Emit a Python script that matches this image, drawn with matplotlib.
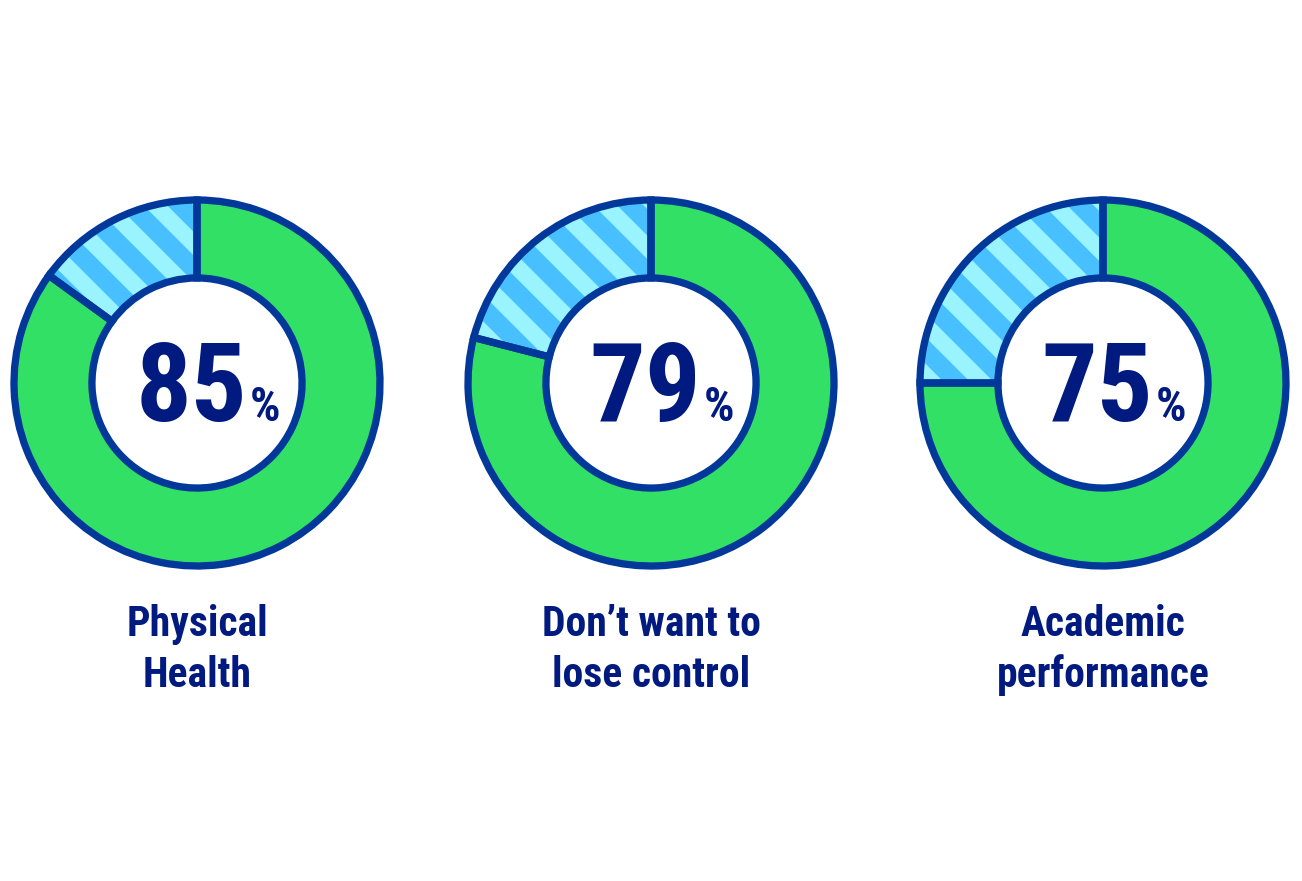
import matplotlib.pyplot as plt

# data
labels = ["Physical\nHealth", "Don\u2019t want to\nlose control", "Academic\nperformance"]
shares = [85, 79, 75]

green = "#33e066"
blue = "#48c0ff"
stripe = "#99f4ff"
outline = "#02389a"
navy = "#001a80"

plt.rcParams['font.family'] = ['Roboto Condensed', 'DejaVu Sans']
plt.rcParams['hatch.linewidth'] = 8

W, H, DPI = 1302, 881, 150
fig = plt.figure(figsize=(W / DPI, H / DPI), dpi=DPI)

centers = [197, 651, 1103]
cy = 383
r = 183
lim = 1.05
hole = 0.426

for cx, label, val in zip(centers, labels, shares):
    size = 2 * r * lim
    ax = fig.add_axes([(cx - size / 2) / W, (H - cy - size / 2) / H, size / W, size / H])

    wedges, _ = ax.pie([val, 100 - val], startangle=90, counterclock=False,
                       colors=[green, blue],
                       wedgeprops=dict(width=hole, linewidth=0, edgecolor=stripe))
    wedges[1].set_hatch('\\')

    # outlines on top
    ax.pie([val, 100 - val], startangle=90, counterclock=False,
           wedgeprops=dict(width=hole, fill=False, edgecolor=outline, linewidth=3.5))

    ax.set_xlim(-lim, lim)
    ax.set_ylim(-lim, lim)
    ax.axis('off')

    num = ax.text(-0.03, -0.21, str(val), ha='center', va='baseline',
                  fontsize=53, fontweight='bold', color=navy)
    ax.annotate('%', xy=(1, -0.21), xycoords=(num, 'data'), xytext=(1, 0),
                textcoords='offset points', ha='left', va='baseline',
                fontsize=23, fontweight='bold', color=navy)

    fig.text(cx / W, (H - 650) / H, label, ha='center', va='center',
             fontsize=20, fontweight='bold', color=navy, linespacing=1.3)

fig.savefig('out.png', dpi=DPI)
